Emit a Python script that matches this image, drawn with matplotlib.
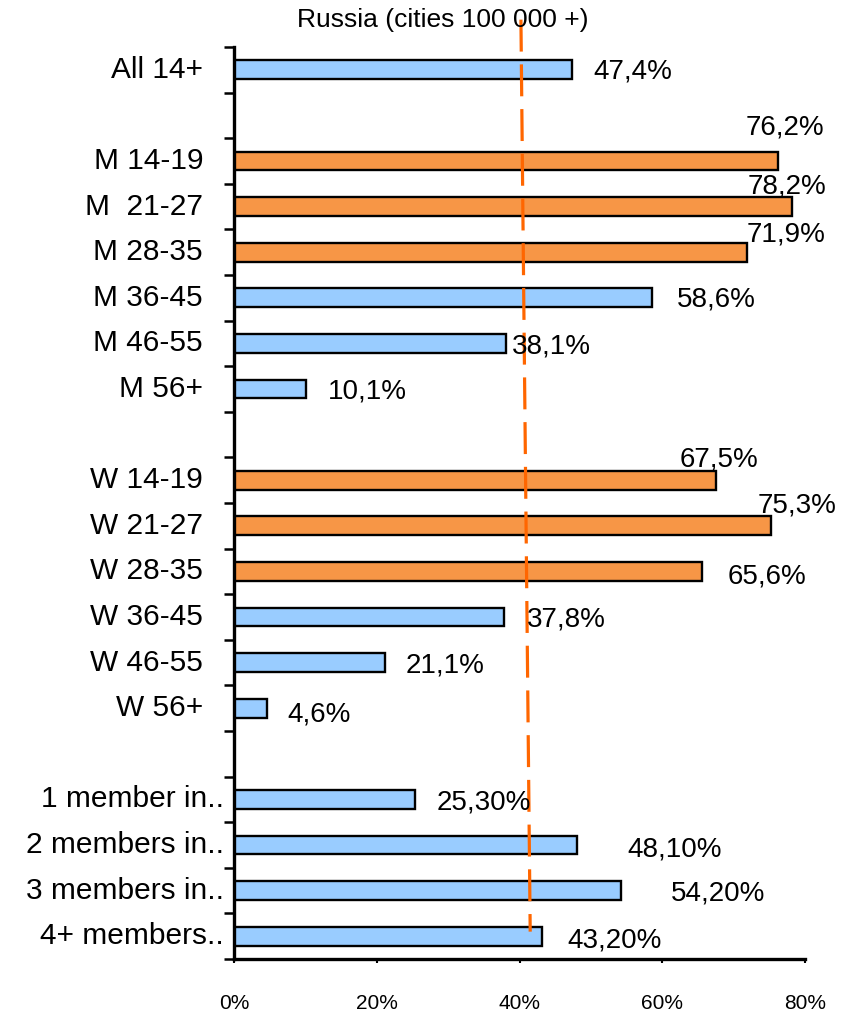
import matplotlib
matplotlib.use("Agg")
import matplotlib.pyplot as plt
from matplotlib.ticker import FixedLocator, FuncFormatter

plt.rcParams["font.family"] = ["Liberation Sans", "DejaVu Sans"]

# categories, top to bottom ("" = empty slot between groups)
categories = ["All 14+", "",
              "M 14-19", "M  21-27", "M 28-35", "M 36-45", "M 46-55", "M 56+", "",
              "W 14-19", "W 21-27", "W 28-35", "W 36-45", "W 46-55", "W 56+", "",
              "1 member in..", "2 members in..", "3 members in..", "4+ members.."]
values = [47.4, None,
          76.2, 78.2, 71.9, 58.6, 38.1, 10.1, None,
          67.5, 75.3, 65.6, 37.8, 21.1, 4.6, None,
          25.3, 48.1, 54.2, 43.2]
value_labels = ["47,4%", "",
                "76,2%", "78,2%", "71,9%", "58,6%", "38,1%", "10,1%", "",
                "67,5%", "75,3%", "65,6%", "37,8%", "21,1%", "4,6%", "",
                "25,30%", "48,10%", "54,20%", "43,20%"]
highlight = [False, False,
             True, True, True, False, False, False, False,
             True, True, True, False, False, False, False,
             False, False, False, False]
# reference (dashed) line
ref_x = [40.2, 41.5]
ref_y = [-1.1, 18.9]

# label offsets in pixels (dx from bar end, dy downward), as placed in the original
label_off = [(21, 2), None,
             (-32, -33), (-45, -20), (-1, -18), (25, 2), (6, 3), (22, 2), None,
             (-36, -21), (-14, -20), (25, 5), (23, 3), (21, 3), (21, 6), None,
             (22, 3), (50, 4), (50, 3), (25, 4)]

blue = "#99CCFF"
orange = "#F79646"

fig = plt.figure(figsize=(8.63, 10.13), dpi=100)
ax = fig.add_axes([234 / 863, 1 - 959 / 1013, (805 - 234) / 863, (959 - 47) / 1013])

n = len(categories)
for i, (v, hl) in enumerate(zip(values, highlight)):
    if v is None:
        continue
    ax.barh(i, v, height=0.41, color=orange if hl else blue,
            edgecolor="black", linewidth=1.7, zorder=2)
    dx, dy = label_off[i]
    ax.annotate(value_labels[i], xy=(v, i), xytext=(dx, -dy),
                textcoords="offset pixels", ha="left", va="center",
                fontsize=20, zorder=4)

ax.plot(ref_x, ref_y, color="#FF6600", lw=2.3, dashes=(10, 4),
        clip_on=False, zorder=3)

ax.set_xlim(0, 80)
ax.set_ylim(n - 0.5, -0.5)

# category labels
for i, c in enumerate(categories):
    if not c:
        continue
    shift = -10 if "member" in c else -31
    ax.annotate(c, xy=(0, i), xycoords=("axes fraction", "data"),
                xytext=(shift, 0), textcoords="offset pixels",
                ha="right", va="center", fontsize=21.5)

ax.set_yticks([])
ax.yaxis.set_minor_locator(FixedLocator([k - 0.5 for k in range(n + 1)]))
ax.tick_params(axis="y", which="minor", length=7, width=1.8, direction="out")

ax.set_xticks([0, 20, 40, 60, 80])
ax.xaxis.set_major_formatter(FuncFormatter(lambda x, p: f"{x:.0f}%"))
ax.tick_params(axis="x", length=3, width=1.5, pad=22, labelsize=15)

for s in ["top", "right"]:
    ax.spines[s].set_visible(False)
for s in ["left", "bottom"]:
    ax.spines[s].set_linewidth(2.4)

fig.text(443 / 863, 1 - 20 / 1013, "Russia (cities 100 000 +)",
         ha="center", va="center", fontsize=19)

fig.savefig("out.png", dpi=100)
